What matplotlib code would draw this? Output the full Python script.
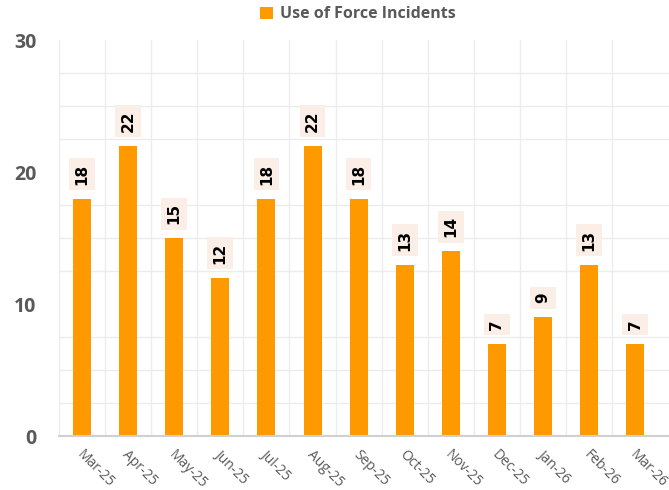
import numpy as np
import matplotlib.pyplot as plt
import matplotlib.transforms as mtransforms
from matplotlib.patches import Patch

months = ['Mar-25', 'Apr-25', 'May-25', 'Jun-25', 'Jul-25', 'Aug-25', 'Sep-25',
          'Oct-25', 'Nov-25', 'Dec-25', 'Jan-26', 'Feb-26', 'Mar-26']
incidents = [18, 22, 15, 12, 18, 22, 18, 13, 14, 7, 9, 13, 7]
y_ticks = [0, 10, 20, 30]

orange = '#FF9900'
grey = '#595959'

fig = plt.figure(figsize=(6.69, 4.90), dpi=100)
ax = fig.add_axes([0.088, 0.110, 0.912, 0.808])

x = np.arange(len(months))
ax.bar(x, incidents, width=0.39, color=orange, zorder=3)

# data labels, rotated, with light box
for xi, v in zip(x, incidents):
    ax.annotate(str(v), (xi, v), xytext=(0, 10), textcoords='offset points',
                rotation=90, ha='center', va='bottom', fontsize=11, fontweight='bold',
                color='black', zorder=4,
                bbox=dict(boxstyle='square,pad=0.35', fc='#fbeee6', ec='none'))

ax.set_xlim(-0.5, 12.73)
ax.set_ylim(0, 30)

# gridlines
ax.set_yticks(y_ticks)
ax.set_yticks(np.arange(0, 30.1, 2.5), minor=True)
ax.set_xticks(x - 0.5, minor=True)
ax.grid(True, which='minor', color='#ececec', linewidth=1, zorder=0)
ax.tick_params(which='both', length=0)
ax.tick_params(axis='y', pad=16, labelcolor=grey)
for lbl in ax.get_yticklabels():
    lbl.set_fontweight('bold')
    lbl.set_fontfamily('Open Sans')
    lbl.set_fontsize(14)

ax.set_xticks(x)
ax.set_xticklabels(months, rotation=-45, ha='left', rotation_mode='anchor',
                   fontsize=10, color=grey, family='Open Sans')
offset = mtransforms.ScaledTranslation(2 / 100, -6 / 100, fig.dpi_scale_trans)
for lbl in ax.get_xticklabels():
    lbl.set_transform(lbl.get_transform() + offset)

for s in ['top', 'right', 'left']:
    ax.spines[s].set_visible(False)
ax.spines['bottom'].set_color('#d0d0d0')
ax.spines['bottom'].set_linewidth(1.5)
ax.spines['bottom'].set_zorder(5)

handle = Patch(facecolor=orange, edgecolor='none')
fig.legend([handle], ['Use of Force Incidents'], loc='center',
           bbox_to_anchor=(0.535, 0.971), frameon=False, handlelength=0.8,
           handleheight=0.8, handletextpad=0.4,
           prop={'weight': 'bold', 'size': 11.5, 'family': 'Open Sans'},
           labelcolor=grey)

fig.savefig('out.png', dpi=100)
